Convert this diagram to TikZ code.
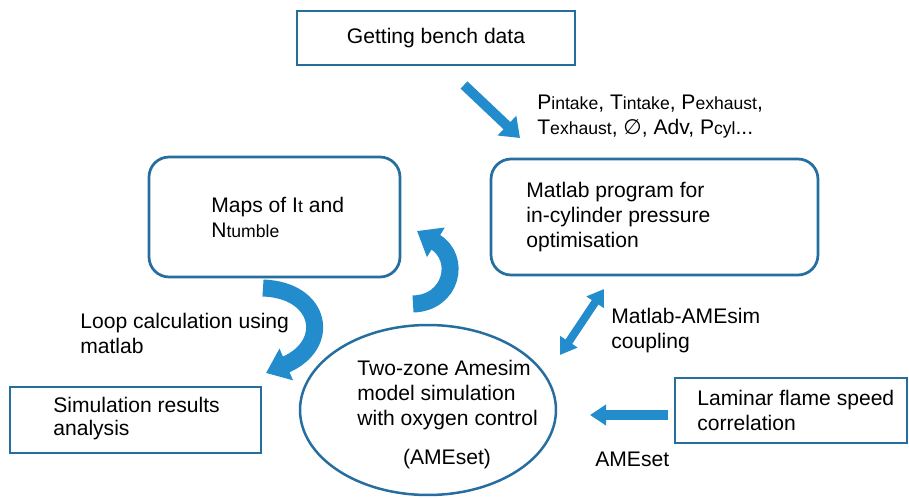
\documentclass[tikz,border=0pt]{standalone}
\usepackage{fontspec}
\setmainfont{Liberation Sans}
\newfontfamily\symfont{DejaVu Sans}
\usetikzlibrary{arrows.meta,shapes.geometric}
\definecolor{boxblue}{RGB}{38,110,160}
\definecolor{arrowblue}{RGB}{35,140,205}
\newcommand{\lowtxt}[1]{{\fontsize{10}{11}\selectfont #1}}

\begin{document}
\begin{tikzpicture}[x=0.02cm, y=-0.02cm,
  every node/.style={font=\fontsize{12}{14.2}\selectfont},
  box/.style={draw=boxblue, line width=0.055cm},
  rbox/.style={box, rounded corners=0.4cm},
  txt/.style={anchor=north west, inner sep=0pt, align=left},
  blockarrow/.style={draw=arrowblue, line width=0.2cm, -{Triangle[width=0.52cm,length=0.36cm]}},
  bendarrow/.style={draw=arrowblue, line width=0.34cm, -{Triangle[width=0.66cm,length=0.44cm]}}]
\useasboundingbox (0,0) rectangle (909,497);
% boxes
\node[box, minimum width=5.56cm, minimum height=1.08cm] (bench) at (436,38) {Getting bench data};
\node[rbox, minimum width=5.02cm, minimum height=2.4cm] (maps) at (274.5,217) {};
\node[rbox, minimum width=6.54cm, minimum height=2.32cm] (matlab) at (654.5,217) {};
\node[box, minimum width=5.02cm, minimum height=1.32cm] (simres) at (135.5,420) {};
\node[box, minimum width=4.64cm, minimum height=1.3cm] (lam) at (791,410.5) {};
\node[ellipse, draw=boxblue, line width=0.05cm, minimum width=5.12cm, minimum height=3.4cm] (sim) at (428,410) {};
% texts
\node[txt] (params) at (537,95) {P\lowtxt{intake}, T\lowtxt{intake}, P\lowtxt{exhaust},\\T\lowtxt{exhaust}, {\symfont ∅}, Adv, P\lowtxt{cyl}...};
\node[txt] (matlabtxt) at (526,182) {Matlab program for\\in-cylinder pressure\\optimisation};
\node[txt] (mapstxt) at (211,197) {Maps of I\lowtxt{t} and\\N\lowtxt{tumble}};
\node[txt] (looptxt) at (80,313) {Loop calculation using\\matlab};
\node[txt] (coupletxt) at (611,308) {Matlab-AMEsim\\coupling};
\node[txt] (simtxt) at (357,360) {Two-zone Amesim\\model simulation\\with oxygen control};
\node[anchor=north, inner sep=0pt] (simset) at (447,449) {(AMEset)};
\node[txt, font=\fontsize{12}{13}\selectfont] (simrestxt) at (53,397) {Simulation results\\analysis};
\node[txt] (lamtxt) at (697,390) {Laminar flame speed\\correlation};
\node[txt] (lamset) at (595,452) {AMEset};
% arrows
\coordinate (benchout) at (464,85);
\coordinate (matlabin) at (520,138);
\draw[blockarrow] (benchout) -- (matlabin);
\coordinate (simup) at (560,355);
\coordinate (matlabdown) at (604,289);
\draw[draw=arrowblue, line width=0.16cm, {Triangle[width=0.4cm,length=0.32cm]}-{Triangle[width=0.4cm,length=0.32cm]}] (simup) -- (matlabdown);
\coordinate (lamout) at (668,415);
\coordinate (simin) at (590,415);
\draw[blockarrow, -{Triangle[width=0.4cm,length=0.32cm]}] (lamout) -- (simin);
% bent loop arrows
\coordinate (backtail) at (413,304);
\coordinate (backtip) at (417,231);
\draw[bendarrow] (backtail) .. controls (452,303) and (462,258) .. (backtip);
\coordinate (looptail) at (263,288);
\coordinate (looptip) at (266,373);
\draw[bendarrow] (looptail) .. controls (322,290) and (332,345) .. (looptip);
\end{tikzpicture}
\end{document}
